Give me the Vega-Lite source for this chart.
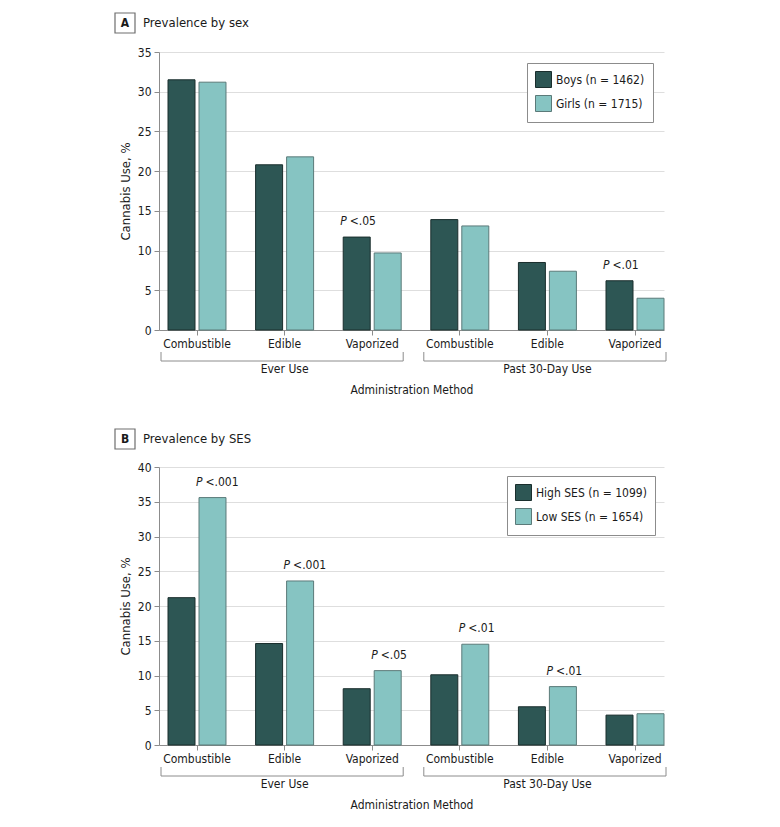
{
  "$schema": "https://vega.github.io/schema/vega-lite/v6.json",
  "padding": {"left": 112, "top": 10, "right": 5, "bottom": 5},
  "spacing": 31,
  "resolve": {"scale": {"fill": "independent", "stroke": "independent", "xOffset": "independent"}, "legend": {"fill": "independent", "stroke": "independent"}},
  "config": {
    "font": "Liberation Sans Narrow, DejaVu Sans Condensed, Roboto Condensed, Arial Narrow, sans-serif",
    "view": {"stroke": null},
    "axis": {
      "domainColor": "#8c8c8c",
      "tickColor": "#8c8c8c",
      "labelColor": "#1a1a1a",
      "titleColor": "#1a1a1a",
      "labelFontSize": 12,
      "titleFontSize": 12,
      "titleFontWeight": "normal",
      "tickSize": 5
    },
    "axisY": {"gridColor": "#dedede", "titlePadding": 5, "labelPadding": 3, "tickCount": 8, "titleFontSize": 13},
    "axisX": {"grid": false, "labelAngle": 0, "labelPadding": 3, "titlePadding": 35, "labelExpr": "split(datum.label, ': ')[1]"},
    "text": {"fontSize": 12, "color": "#1a1a1a"},
    "legend": {
      "orient": "top-right",
      "offset": 11,
      "padding": 8,
      "strokeColor": "#8c8c8c",
      "fillColor": "white",
      "symbolType": "square",
      "symbolSize": 256,
      "symbolStrokeWidth": 1,
      "labelFontSize": 12,
      "labelColor": "#1a1a1a",
      "labelOffset": 4,
      "rowPadding": 3
    }
  },
  "datasets": {
    "sex": [
      {"cat": "Ever Use: Combustible", "group": "Boys (n = 1462)", "pct": 31.5},
      {"cat": "Ever Use: Combustible", "group": "Girls (n = 1715)", "pct": 31.2},
      {"cat": "Ever Use: Edible", "group": "Boys (n = 1462)", "pct": 20.8},
      {"cat": "Ever Use: Edible", "group": "Girls (n = 1715)", "pct": 21.8},
      {"cat": "Ever Use: Vaporized", "group": "Boys (n = 1462)", "pct": 11.7},
      {"cat": "Ever Use: Vaporized", "group": "Girls (n = 1715)", "pct": 9.7},
      {"cat": "Past 30-Day Use: Combustible", "group": "Boys (n = 1462)", "pct": 13.9},
      {"cat": "Past 30-Day Use: Combustible", "group": "Girls (n = 1715)", "pct": 13.1},
      {"cat": "Past 30-Day Use: Edible", "group": "Boys (n = 1462)", "pct": 8.5},
      {"cat": "Past 30-Day Use: Edible", "group": "Girls (n = 1715)", "pct": 7.4},
      {"cat": "Past 30-Day Use: Vaporized", "group": "Boys (n = 1462)", "pct": 6.2},
      {"cat": "Past 30-Day Use: Vaporized", "group": "Girls (n = 1715)", "pct": 4.0}
    ],
    "ses": [
      {"cat": "Ever Use: Combustible", "group": "High SES (n = 1099)", "pct": 21.2},
      {"cat": "Ever Use: Combustible", "group": "Low SES (n = 1654)", "pct": 35.6},
      {"cat": "Ever Use: Edible", "group": "High SES (n = 1099)", "pct": 14.6},
      {"cat": "Ever Use: Edible", "group": "Low SES (n = 1654)", "pct": 23.6},
      {"cat": "Ever Use: Vaporized", "group": "High SES (n = 1099)", "pct": 8.1},
      {"cat": "Ever Use: Vaporized", "group": "Low SES (n = 1654)", "pct": 10.7},
      {"cat": "Past 30-Day Use: Combustible", "group": "High SES (n = 1099)", "pct": 10.1},
      {"cat": "Past 30-Day Use: Combustible", "group": "Low SES (n = 1654)", "pct": 14.5},
      {"cat": "Past 30-Day Use: Edible", "group": "High SES (n = 1099)", "pct": 5.5},
      {"cat": "Past 30-Day Use: Edible", "group": "Low SES (n = 1654)", "pct": 8.4},
      {"cat": "Past 30-Day Use: Vaporized", "group": "High SES (n = 1099)", "pct": 4.3},
      {"cat": "Past 30-Day Use: Vaporized", "group": "Low SES (n = 1654)", "pct": 4.5}
    ],
    "sexP": [
      {"cat": "Ever Use: Vaporized", "group": "Boys (n = 1462)", "pct": 11.7, "p": "<.05"},
      {"cat": "Past 30-Day Use: Vaporized", "group": "Boys (n = 1462)", "pct": 6.2, "p": "<.01"}
    ],
    "sesP": [
      {"cat": "Ever Use: Combustible", "group": "Low SES (n = 1654)", "pct": 35.6, "p": "<.001"},
      {"cat": "Ever Use: Edible", "group": "Low SES (n = 1654)", "pct": 23.6, "p": "<.001"},
      {"cat": "Ever Use: Vaporized", "group": "Low SES (n = 1654)", "pct": 10.7, "p": "<.05"},
      {"cat": "Past 30-Day Use: Combustible", "group": "Low SES (n = 1654)", "pct": 14.5, "p": "<.01"},
      {"cat": "Past 30-Day Use: Edible", "group": "Low SES (n = 1654)", "pct": 8.4, "p": "<.01"}
    ],
    "brackets": [
      {"use": "Ever Use", "first": "Ever Use: Combustible", "mid": "Ever Use: Edible", "last": "Ever Use: Vaporized"},
      {"use": "Past 30-Day Use", "first": "Past 30-Day Use: Combustible", "mid": "Past 30-Day Use: Edible", "last": "Past 30-Day Use: Vaporized"}
    ],
    "headA": [{"panel": "A", "title": "Prevalence by sex", "first": "Ever Use: Combustible"}],
    "headB": [{"panel": "B", "title": "Prevalence by SES", "first": "Ever Use: Combustible"}]
  },
  "vconcat": [
    {
      "width": 505,
      "height": 278,
      "layer": [
        {
          "data": {"name": "sex"},
          "mark": {"type": "bar", "strokeWidth": 1},
          "encoding": {
            "x": {"field": "cat", "type": "nominal", "title": "Administration Method",
              "scale": {"domain": ["Ever Use: Combustible", "Ever Use: Edible", "Ever Use: Vaporized", "Past 30-Day Use: Combustible", "Past 30-Day Use: Edible", "Past 30-Day Use: Vaporized"], "paddingInner": 0.338, "paddingOuter": 0.0514, "align": 1}},
            "xOffset": {"field": "group", "type": "nominal", "scale": {"domain": ["Boys (n = 1462)", "Girls (n = 1715)"], "paddingInner": 0.129}},
            "y": {"field": "pct", "type": "quantitative", "title": "Cannabis Use, %", "scale": {"domain": [0, 35], "nice": false}},
            "fill": {"field": "group", "type": "nominal", "scale": {"domain": ["Boys (n = 1462)", "Girls (n = 1715)"], "range": ["#2d5654", "#86c4c2"]}, "legend": {"title": null}},
            "stroke": {"field": "group", "type": "nominal", "scale": {"domain": ["Boys (n = 1462)", "Girls (n = 1715)"], "range": ["#1a2e2d", "#5b7a79"]}, "legend": {"title": null}}
          }
        },
        {
          "data": {"name": "sexP"},
          "mark": {"type": "text", "text": "P", "fontStyle": "italic", "align": "right", "baseline": "middle", "dx": -10, "dy": -16},
          "encoding": {
            "x": {"field": "cat", "type": "nominal"},
            "xOffset": {"field": "group", "type": "nominal"},
            "y": {"field": "pct", "type": "quantitative"}
          }
        },
        {
          "data": {"name": "sexP"},
          "mark": {"type": "text", "align": "left", "baseline": "middle", "dx": -7, "dy": -16},
          "encoding": {
            "x": {"field": "cat", "type": "nominal"},
            "xOffset": {"field": "group", "type": "nominal"},
            "y": {"field": "pct", "type": "quantitative"},
            "text": {"field": "p"}
          }
        },
        {
          "data": {"name": "brackets"},
          "mark": {"type": "rule", "color": "#8c8c8c", "xOffset": -36, "x2Offset": 31, "yOffset": 31},
          "encoding": {
            "x": {"field": "first", "type": "nominal"},
            "x2": {"field": "last"},
            "y": {"datum": 0, "type": "quantitative"}
          }
        },
        {
          "data": {"name": "brackets"},
          "mark": {"type": "rule", "color": "#8c8c8c", "xOffset": -36, "yOffset": 22, "y2Offset": 31},
          "encoding": {
            "x": {"field": "first", "type": "nominal"},
            "y": {"datum": 0, "type": "quantitative"},
            "y2": {"datum": 0}
          }
        },
        {
          "data": {"name": "brackets"},
          "mark": {"type": "rule", "color": "#8c8c8c", "xOffset": 31, "yOffset": 22, "y2Offset": 31},
          "encoding": {
            "x": {"field": "last", "type": "nominal"},
            "y": {"datum": 0, "type": "quantitative"},
            "y2": {"datum": 0}
          }
        },
        {
          "data": {"name": "brackets"},
          "mark": {"type": "text", "baseline": "middle", "dy": 39},
          "encoding": {
            "x": {"field": "mid", "type": "nominal"},
            "y": {"datum": 0, "type": "quantitative"},
            "text": {"field": "use"}
          }
        },
        {
          "data": {"name": "headA"},
          "mark": {"type": "point", "shape": "square", "size": 400, "filled": false, "stroke": "#6e6e6e", "strokeWidth": 1.2, "opacity": 1, "xOffset": -72, "yOffset": -29},
          "encoding": {
            "x": {"field": "first", "type": "nominal"},
            "y": {"datum": 35, "type": "quantitative"}
          }
        },
        {
          "data": {"name": "headA"},
          "mark": {"type": "text", "fontWeight": "bold", "fontSize": 12, "baseline": "middle", "align": "center", "dx": -72, "dy": -29},
          "encoding": {
            "x": {"field": "first", "type": "nominal"},
            "y": {"datum": 35, "type": "quantitative"},
            "text": {"field": "panel"}
          }
        },
        {
          "data": {"name": "headA"},
          "mark": {"type": "text", "fontSize": 13, "baseline": "middle", "align": "left", "dx": -54, "dy": -29},
          "encoding": {
            "x": {"field": "first", "type": "nominal"},
            "y": {"datum": 35, "type": "quantitative"},
            "text": {"field": "title"}
          }
        }
      ]
    },
    {
      "width": 505,
      "height": 278,
      "layer": [
        {
          "data": {"name": "ses"},
          "mark": {"type": "bar", "strokeWidth": 1},
          "encoding": {
            "x": {"field": "cat", "type": "nominal", "title": "Administration Method",
              "scale": {"domain": ["Ever Use: Combustible", "Ever Use: Edible", "Ever Use: Vaporized", "Past 30-Day Use: Combustible", "Past 30-Day Use: Edible", "Past 30-Day Use: Vaporized"], "paddingInner": 0.338, "paddingOuter": 0.0514, "align": 1}},
            "xOffset": {"field": "group", "type": "nominal", "scale": {"domain": ["High SES (n = 1099)", "Low SES (n = 1654)"], "paddingInner": 0.129}},
            "y": {"field": "pct", "type": "quantitative", "title": "Cannabis Use, %", "scale": {"domain": [0, 40], "nice": false}},
            "fill": {"field": "group", "type": "nominal", "scale": {"domain": ["High SES (n = 1099)", "Low SES (n = 1654)"], "range": ["#2d5654", "#86c4c2"]}, "legend": {"title": null, "offset": 9}},
            "stroke": {"field": "group", "type": "nominal", "scale": {"domain": ["High SES (n = 1099)", "Low SES (n = 1654)"], "range": ["#1a2e2d", "#5b7a79"]}, "legend": {"title": null, "offset": 9}}
          }
        },
        {
          "data": {"name": "sesP"},
          "mark": {"type": "text", "text": "P", "fontStyle": "italic", "align": "right", "baseline": "middle", "dx": -10, "dy": -16},
          "encoding": {
            "x": {"field": "cat", "type": "nominal"},
            "xOffset": {"field": "group", "type": "nominal"},
            "y": {"field": "pct", "type": "quantitative"}
          }
        },
        {
          "data": {"name": "sesP"},
          "mark": {"type": "text", "align": "left", "baseline": "middle", "dx": -7, "dy": -16},
          "encoding": {
            "x": {"field": "cat", "type": "nominal"},
            "xOffset": {"field": "group", "type": "nominal"},
            "y": {"field": "pct", "type": "quantitative"},
            "text": {"field": "p"}
          }
        },
        {
          "data": {"name": "brackets"},
          "mark": {"type": "rule", "color": "#8c8c8c", "xOffset": -36, "x2Offset": 31, "yOffset": 31},
          "encoding": {
            "x": {"field": "first", "type": "nominal"},
            "x2": {"field": "last"},
            "y": {"datum": 0, "type": "quantitative"}
          }
        },
        {
          "data": {"name": "brackets"},
          "mark": {"type": "rule", "color": "#8c8c8c", "xOffset": -36, "yOffset": 22, "y2Offset": 31},
          "encoding": {
            "x": {"field": "first", "type": "nominal"},
            "y": {"datum": 0, "type": "quantitative"},
            "y2": {"datum": 0}
          }
        },
        {
          "data": {"name": "brackets"},
          "mark": {"type": "rule", "color": "#8c8c8c", "xOffset": 31, "yOffset": 22, "y2Offset": 31},
          "encoding": {
            "x": {"field": "last", "type": "nominal"},
            "y": {"datum": 0, "type": "quantitative"},
            "y2": {"datum": 0}
          }
        },
        {
          "data": {"name": "brackets"},
          "mark": {"type": "text", "baseline": "middle", "dy": 39},
          "encoding": {
            "x": {"field": "mid", "type": "nominal"},
            "y": {"datum": 0, "type": "quantitative"},
            "text": {"field": "use"}
          }
        },
        {
          "data": {"name": "headB"},
          "mark": {"type": "point", "shape": "square", "size": 400, "filled": false, "stroke": "#6e6e6e", "strokeWidth": 1.2, "opacity": 1, "xOffset": -72, "yOffset": -28},
          "encoding": {
            "x": {"field": "first", "type": "nominal"},
            "y": {"datum": 40, "type": "quantitative"}
          }
        },
        {
          "data": {"name": "headB"},
          "mark": {"type": "text", "fontWeight": "bold", "fontSize": 12, "baseline": "middle", "align": "center", "dx": -72, "dy": -28},
          "encoding": {
            "x": {"field": "first", "type": "nominal"},
            "y": {"datum": 40, "type": "quantitative"},
            "text": {"field": "panel"}
          }
        },
        {
          "data": {"name": "headB"},
          "mark": {"type": "text", "fontSize": 13, "baseline": "middle", "align": "left", "dx": -54, "dy": -28},
          "encoding": {
            "x": {"field": "first", "type": "nominal"},
            "y": {"datum": 40, "type": "quantitative"},
            "text": {"field": "title"}
          }
        }
      ]
    }
  ]
}
